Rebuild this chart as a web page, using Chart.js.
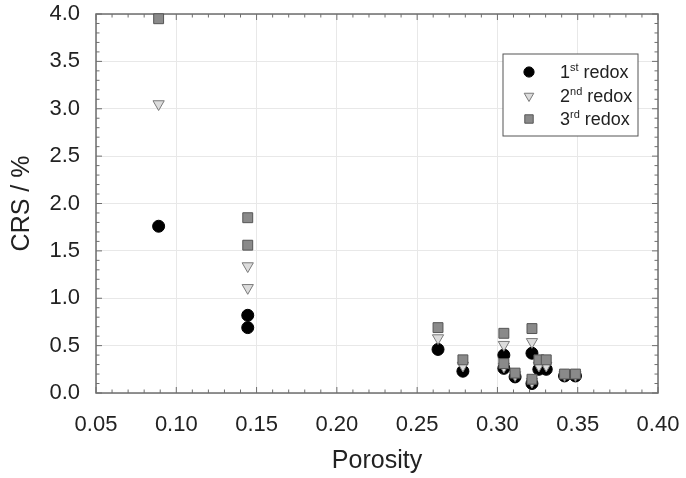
<!DOCTYPE html>
<html>
<head>
<meta charset="utf-8">
<script src="https://cdn.jsdelivr.net/npm/chart.js@4/dist/chart.umd.min.js"></script>
<style>
  body { margin: 0; background: #fff; }
  #wrap { width: 686px; height: 478px; }
</style>
</head>
<body>
<div id="wrap"><canvas id="crsChart" width="686" height="478"></canvas></div>
<script>
// values
const porosity = [0.089, 0.1445, 0.1445, 0.263, 0.2785, 0.304, 0.304, 0.311, 0.3215, 0.3215, 0.3258, 0.3304, 0.3418, 0.3486];
const redox1 = [1.76, 0.82, 0.69, 0.46, 0.23, 0.40, 0.26, 0.17, 0.42, 0.10, 0.25, 0.25, 0.18, 0.18];
const redox2 = [3.05, 1.34, 1.11, 0.58, 0.29, 0.51, 0.28, 0.19, 0.54, 0.12, 0.29, 0.29, 0.19, 0.19];
const redox3 = [3.95, 1.85, 1.56, 0.69, 0.35, 0.63, 0.31, 0.21, 0.68, 0.145, 0.35, 0.35, 0.20, 0.20];
const seriesNames = ["1st redox", "2nd redox", "3rd redox"];
const xTicks = [0.05, 0.10, 0.15, 0.20, 0.25, 0.30, 0.35, 0.40];
const yTicks = [0.0, 0.5, 1.0, 1.5, 2.0, 2.5, 3.0, 3.5, 4.0];

const FONT = "'Liberation Sans', Arial, sans-serif";

function toPoints(ys) {
  return porosity.map((x, i) => ({ x: x, y: ys[i] }));
}

const seriesStyles = [
  { pointStyle: "circle", radius: 6, rotation: 0, bg: "#000000", border: "#000000", order: 3 },
  { pointStyle: "triangle", radius: 6.5, rotation: 180, bg: "#dcdcdc", border: "#7a7a7a", order: 2 },
  { pointStyle: "rect", radius: 7, rotation: 0, bg: "#8a8a8a", border: "#555555", order: 1 },
];
const seriesData = [redox1, redox2, redox3];

const datasets = seriesNames.map((name, i) => {
  const s = seriesStyles[i];
  return {
    label: name,
    data: toPoints(seriesData[i]),
    pointStyle: s.pointStyle,
    pointRadius: s.radius,
    pointHoverRadius: s.radius,
    pointRotation: s.rotation,
    backgroundColor: s.bg,
    borderColor: s.border,
    borderWidth: 1,
    order: s.order,
    clip: false,
  };
});

// frame with inward ticks on all four sides
const framePlugin = {
  id: "frame",
  beforeDatasetsDraw(chart) {
    const { ctx, chartArea: a, scales } = chart;
    ctx.save();
    ctx.strokeStyle = "#6e6e6e";
    ctx.lineWidth = 1.5;
    ctx.strokeRect(a.left, a.top, a.right - a.left, a.bottom - a.top);
    ctx.lineWidth = 1;
    ctx.beginPath();
    for (let i = 0; i < xTicks.length; i++) {
      for (let k = 0; k < 5; k++) {
        if (i === xTicks.length - 1 && k > 0) break;
        const v = xTicks[i] + k * 0.01;
        const px = scales.x.getPixelForValue(v);
        const len = k === 0 ? 6 : 3.5;
        ctx.moveTo(px, a.bottom); ctx.lineTo(px, a.bottom - len);
        ctx.moveTo(px, a.top); ctx.lineTo(px, a.top + len);
      }
    }
    for (let i = 0; i < yTicks.length; i++) {
      for (let k = 0; k < 5; k++) {
        if (i === yTicks.length - 1 && k > 0) break;
        const v = yTicks[i] + k * 0.1;
        const py = scales.y.getPixelForValue(v);
        const len = k === 0 ? 6 : 3.5;
        ctx.moveTo(a.left, py); ctx.lineTo(a.left + len, py);
        ctx.moveTo(a.right, py); ctx.lineTo(a.right - len, py);
      }
    }
    ctx.stroke();
    ctx.restore();
  },
};

// boxed legend with superscript ordinals
const legendPlugin = {
  id: "supLegend",
  afterDraw(chart) {
    const { ctx } = chart;
    const box = { left: 503, top: 54, right: 638, bottom: 136 };
    const rows = [72, 96, 119];
    ctx.save();
    ctx.fillStyle = "#ffffff";
    ctx.fillRect(box.left, box.top, box.right - box.left, box.bottom - box.top);
    ctx.strokeStyle = "#555555";
    ctx.lineWidth = 1;
    ctx.strokeRect(box.left, box.top, box.right - box.left, box.bottom - box.top);
    seriesNames.forEach((name, i) => {
      const s = seriesStyles[i];
      ctx.fillStyle = s.bg;
      ctx.strokeStyle = s.border;
      ctx.lineWidth = 1;
      Chart.helpers.drawPoint(ctx, {
        pointStyle: s.pointStyle,
        radius: s.radius * 0.85,
        rotation: s.rotation,
        borderWidth: 1,
      }, 529, rows[i]);

      const m = name.match(/^(\d+)(\D+?) (.*)$/);
      let x = 560;
      const base = rows[i] + 6;
      ctx.fillStyle = "#222222";
      ctx.textBaseline = "alphabetic";
      ctx.font = "18px " + FONT;
      ctx.fillText(m[1], x, base);
      x += ctx.measureText(m[1]).width;
      ctx.font = "11px " + FONT;
      ctx.fillText(m[2], x, base - 7);
      x += ctx.measureText(m[2]).width + 5;
      ctx.font = "18px " + FONT;
      ctx.fillText(m[3], x, base);
    });
    ctx.restore();
  },
};

new Chart(document.getElementById("crsChart"), {
  type: "scatter",
  data: { datasets: datasets },
  plugins: [framePlugin, legendPlugin],
  options: {
    responsive: false,
    animation: false,
    layout: { padding: { top: 14, right: 28, left: 0, bottom: 0 } },
    plugins: {
      legend: { display: false },
      tooltip: { enabled: false },
    },
    scales: {
      x: {
        type: "linear",
        min: 0.05,
        max: 0.40,
        afterBuildTicks: (scale) => {
          scale.ticks = xTicks.map((v) => ({ value: v }));
        },
        afterFit: (scale) => {
          scale.height = 85;
          scale.paddingLeft = 0;
          scale.paddingRight = 0;
        },
        ticks: {
          callback: (v) => Number(v).toFixed(2),
          font: { family: FONT, size: 22 },
          color: "#222222",
          padding: 19,
          maxRotation: 0,
        },
        grid: { color: "#e8e8e8", lineWidth: 1, drawTicks: false },
        border: { display: false },
        title: {
          display: true,
          text: "Porosity",
          font: { family: FONT, size: 25 },
          color: "#222222",
          padding: { top: 0, bottom: 2 },
        },
      },
      y: {
        type: "linear",
        min: 0,
        max: 4,
        afterBuildTicks: (scale) => {
          scale.ticks = yTicks.map((v) => ({ value: v }));
        },
        afterFit: (scale) => {
          scale.width = 96;
          scale.paddingTop = 0;
          scale.paddingBottom = 0;
        },
        ticks: {
          callback: (v) => Number(v).toFixed(1),
          font: { family: FONT, size: 22 },
          color: "#222222",
          padding: 16,
        },
        grid: { color: "#e8e8e8", lineWidth: 1, drawTicks: false },
        border: { display: false },
        title: {
          display: true,
          text: "CRS / %",
          font: { family: FONT, size: 25 },
          color: "#222222",
          padding: { top: 7, bottom: 0 },
        },
      },
    },
  },
});
</script>
</body>
</html>
